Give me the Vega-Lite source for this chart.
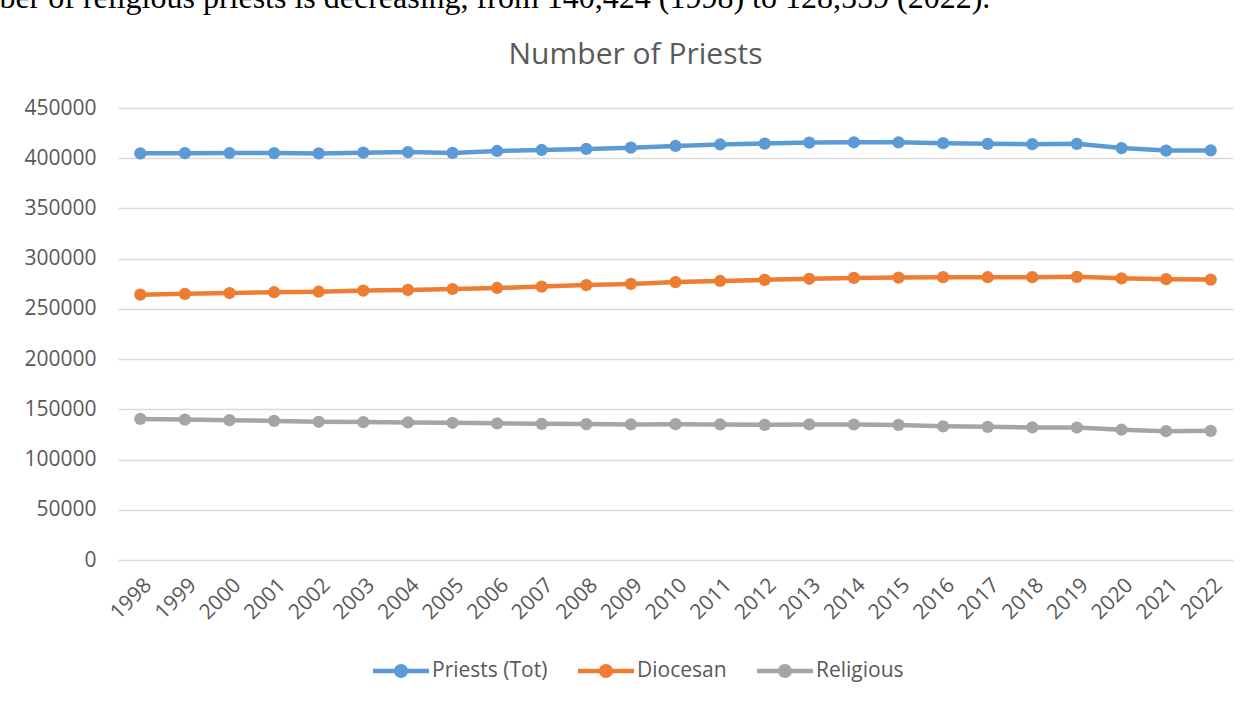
{
  "$schema": "https://vega.github.io/schema/vega-lite/v6.json",
  "autosize": "none",
  "width": 1115,
  "height": 452,
  "padding": {"left": 118, "top": 108, "right": 22, "bottom": 144},
  "background": "white",
  "config": {
    "view": {"stroke": null},
    "axis": {"labelFont": "Open Sans", "labelColor": "#595959", "labelFontSize": 21}
  },
  "data": {
    "values": [
      {"year": "1998", "series": "Priests (Tot)", "value": 404900},
      {"year": "1999", "series": "Priests (Tot)", "value": 405000},
      {"year": "2000", "series": "Priests (Tot)", "value": 405200},
      {"year": "2001", "series": "Priests (Tot)", "value": 405100},
      {"year": "2002", "series": "Priests (Tot)", "value": 404800},
      {"year": "2003", "series": "Priests (Tot)", "value": 405500},
      {"year": "2004", "series": "Priests (Tot)", "value": 406100},
      {"year": "2005", "series": "Priests (Tot)", "value": 405300},
      {"year": "2006", "series": "Priests (Tot)", "value": 407200},
      {"year": "2007", "series": "Priests (Tot)", "value": 408200},
      {"year": "2008", "series": "Priests (Tot)", "value": 409200},
      {"year": "2009", "series": "Priests (Tot)", "value": 410500},
      {"year": "2010", "series": "Priests (Tot)", "value": 412200},
      {"year": "2011", "series": "Priests (Tot)", "value": 413700},
      {"year": "2012", "series": "Priests (Tot)", "value": 414600},
      {"year": "2013", "series": "Priests (Tot)", "value": 415600},
      {"year": "2014", "series": "Priests (Tot)", "value": 415900},
      {"year": "2015", "series": "Priests (Tot)", "value": 415800},
      {"year": "2016", "series": "Priests (Tot)", "value": 415000},
      {"year": "2017", "series": "Priests (Tot)", "value": 414300},
      {"year": "2018", "series": "Priests (Tot)", "value": 414000},
      {"year": "2019", "series": "Priests (Tot)", "value": 414300},
      {"year": "2020", "series": "Priests (Tot)", "value": 410100},
      {"year": "2021", "series": "Priests (Tot)", "value": 407600},
      {"year": "2022", "series": "Priests (Tot)", "value": 407700},
      {"year": "1998", "series": "Diocesan", "value": 264200},
      {"year": "1999", "series": "Diocesan", "value": 265000},
      {"year": "2000", "series": "Diocesan", "value": 265800},
      {"year": "2001", "series": "Diocesan", "value": 266600},
      {"year": "2002", "series": "Diocesan", "value": 267100},
      {"year": "2003", "series": "Diocesan", "value": 268200},
      {"year": "2004", "series": "Diocesan", "value": 268900},
      {"year": "2005", "series": "Diocesan", "value": 269800},
      {"year": "2006", "series": "Diocesan", "value": 270800},
      {"year": "2007", "series": "Diocesan", "value": 272200},
      {"year": "2008", "series": "Diocesan", "value": 273700},
      {"year": "2009", "series": "Diocesan", "value": 274900},
      {"year": "2010", "series": "Diocesan", "value": 276700},
      {"year": "2011", "series": "Diocesan", "value": 277800},
      {"year": "2012", "series": "Diocesan", "value": 278900},
      {"year": "2013", "series": "Diocesan", "value": 280000},
      {"year": "2014", "series": "Diocesan", "value": 280800},
      {"year": "2015", "series": "Diocesan", "value": 281200},
      {"year": "2016", "series": "Diocesan", "value": 281600},
      {"year": "2017", "series": "Diocesan", "value": 281500},
      {"year": "2018", "series": "Diocesan", "value": 281600},
      {"year": "2019", "series": "Diocesan", "value": 281900},
      {"year": "2020", "series": "Diocesan", "value": 280400},
      {"year": "2021", "series": "Diocesan", "value": 279600},
      {"year": "2022", "series": "Diocesan", "value": 279200},
      {"year": "1998", "series": "Religious", "value": 140424},
      {"year": "1999", "series": "Religious", "value": 139800},
      {"year": "2000", "series": "Religious", "value": 139200},
      {"year": "2001", "series": "Religious", "value": 138500},
      {"year": "2002", "series": "Religious", "value": 137600},
      {"year": "2003", "series": "Religious", "value": 137300},
      {"year": "2004", "series": "Religious", "value": 137000},
      {"year": "2005", "series": "Religious", "value": 136600},
      {"year": "2006", "series": "Religious", "value": 136100},
      {"year": "2007", "series": "Religious", "value": 135600},
      {"year": "2008", "series": "Religious", "value": 135300},
      {"year": "2009", "series": "Religious", "value": 135000},
      {"year": "2010", "series": "Religious", "value": 135200},
      {"year": "2011", "series": "Religious", "value": 135000},
      {"year": "2012", "series": "Religious", "value": 134600},
      {"year": "2013", "series": "Religious", "value": 135000},
      {"year": "2014", "series": "Religious", "value": 134900},
      {"year": "2015", "series": "Religious", "value": 134500},
      {"year": "2016", "series": "Religious", "value": 133100},
      {"year": "2017", "series": "Religious", "value": 132600},
      {"year": "2018", "series": "Religious", "value": 132000},
      {"year": "2019", "series": "Religious", "value": 131900},
      {"year": "2020", "series": "Religious", "value": 129700},
      {"year": "2021", "series": "Religious", "value": 128300},
      {"year": "2022", "series": "Religious", "value": 128559}
    ]
  },
  "mark": {
    "type": "line",
    "strokeWidth": 4.5,
    "point": {"filled": true, "size": 150, "opacity": 1}
  },
  "encoding": {
    "x": {
      "field": "year",
      "type": "ordinal",
      "scale": {"type": "point", "padding": 0.5},
      "axis": {
        "labelAngle": -45,
        "ticks": false,
        "domain": false,
        "grid": false,
        "labelPadding": 14,
        "title": "Number of Priests",
        "titleX": 517,
        "titleY": -497,
        "titleAlign": "center",
        "titleAnchor": null,
        "titleBaseline": "alphabetic",
        "titleFont": "Open Sans",
        "titleFontSize": 30,
        "titleFontWeight": "normal",
        "titleColor": "#595959"
      }
    },
    "y": {
      "field": "value",
      "type": "quantitative",
      "scale": {"domain": [0, 450000], "nice": false},
      "axis": {
        "values": [0, 50000, 100000, 150000, 200000, 250000, 300000, 350000, 400000, 450000],
        "format": "d",
        "ticks": false,
        "domain": false,
        "grid": true,
        "gridColor": "#d9d9d9",
        "gridWidth": 1.5,
        "labelPadding": 22,
        "title": "mber of religious priests is decreasing, from 140,424 (1998) to 128,559 (2022).",
        "titleAngle": 0,
        "titleX": -144,
        "titleY": -101,
        "titleAlign": "left",
        "titleBaseline": "alphabetic",
        "titleFont": "Liberation Serif",
        "titleFontSize": 32,
        "titleFontWeight": "normal",
        "titleColor": "#000000"
      }
    },
    "color": {
      "field": "series",
      "type": "nominal",
      "sort": ["Priests (Tot)", "Diocesan", "Religious"],
      "scale": {
        "domain": ["Priests (Tot)", "Diocesan", "Religious"],
        "range": ["#5B9BD5", "#ED7D31", "#A5A5A5"]
      },
      "legend": {
        "title": null,
        "orient": "none",
        "direction": "horizontal",
        "legendX": 255,
        "legendY": 535,
        "padding": 0,
        "columnPadding": 30,
        "labelOffset": 3,
        "labelFont": "Open Sans",
        "labelFontSize": 21,
        "labelColor": "#595959",
        "symbolType": "M-1,-0.08L1,-0.08L1,0.08L-1,0.08Z M0.25,0A0.25,0.25,0,1,1,-0.25,0A0.25,0.25,0,1,1,0.25,0Z",
        "symbolSize": 3136,
        "symbolStrokeWidth": 0,
        "encode": {
          "symbols": {
            "update": {
              "fill": {"scale": "color", "field": "value"},
              "strokeWidth": {"value": 0},
              "opacity": {"value": 1}
            }
          }
        }
      }
    }
  }
}
